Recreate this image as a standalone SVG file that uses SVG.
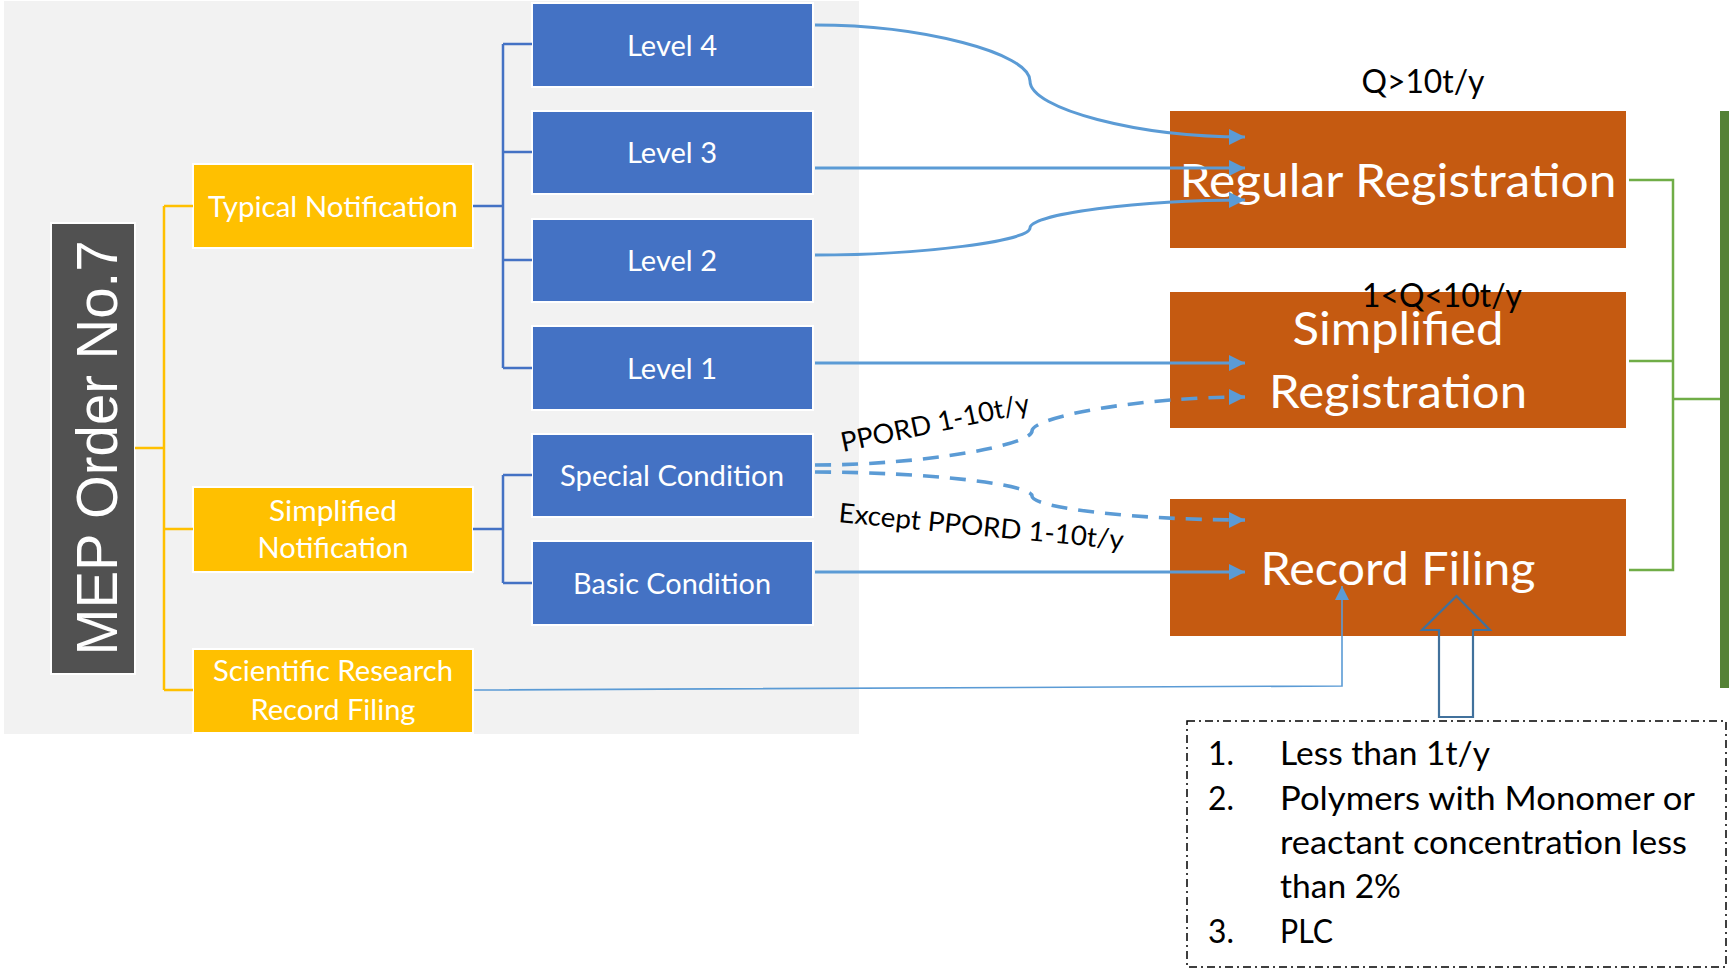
<svg xmlns="http://www.w3.org/2000/svg" width="1729" height="970" viewBox="0 0 1729 970">
<defs>
<style>
.t{font-family:Lato,"Open Sans","Liberation Sans",sans-serif;text-anchor:middle}
.w{fill:#fff}
.k{fill:#000}
.blue rect{fill:#4472C4;stroke:#fff;stroke-width:2}
.yel rect{fill:#FFC000;stroke:#fff;stroke-width:2}
.org rect{fill:#C55A11}
.bt{font-size:28px}
.ot{font-size:46px}
.lb{font-family:Lato,"Open Sans","Liberation Sans",sans-serif;fill:#000}
.c{fill:none;stroke:#5B9BD5;stroke-width:3}
.d{stroke-width:3.6;stroke-dasharray:16 11}
.yl{fill:none;stroke:#FFC000;stroke-width:2.5}
.bl{fill:none;stroke:#4472C4;stroke-width:2.5}
.gl{fill:none;stroke:#70AD47;stroke-width:2.5}
</style>
<marker id="ah" markerUnits="userSpaceOnUse" markerWidth="16" markerHeight="16" refX="16" refY="8" orient="auto">
<path d="M0,0 L16,8 L0,16 z" fill="#5B9BD5"/>
</marker>
<marker id="ahs" markerUnits="userSpaceOnUse" markerWidth="14" markerHeight="14" refX="14" refY="7" orient="auto">
<path d="M0,0 L14,7 L0,14 z" fill="#5B9BD5"/>
</marker>
</defs>
<rect x="0" y="0" width="1729" height="970" fill="#fff"/>
<rect id="panel" x="4" y="1" width="855" height="733" fill="#F2F2F2"/>

<g id="mep">
<rect x="51" y="223" width="84" height="451" fill="#515151" stroke="#fff" stroke-width="2"/>
<text transform="translate(117,448) rotate(-90)" text-anchor="middle" font-family="Liberation Sans, sans-serif" font-size="58" fill="#fff" textLength="415" lengthAdjust="spacingAndGlyphs">MEP Order No.7</text>
</g>

<g id="typical" class="yel"><rect x="193" y="164" width="280" height="84"/><text class="t w bt" x="333" y="217" textLength="250" lengthAdjust="spacingAndGlyphs">Typical Notification</text></g>
<g id="simplified-notification" class="yel"><rect x="193" y="487" width="280" height="85"/><text class="t w bt" x="333" y="521" textLength="128" lengthAdjust="spacingAndGlyphs">Simplified</text><text class="t w bt" x="333" y="558" textLength="151" lengthAdjust="spacingAndGlyphs">Notification</text></g>
<g id="scientific" class="yel"><rect x="193" y="649" width="280" height="84"/><text class="t w bt" x="333" y="681" textLength="240" lengthAdjust="spacingAndGlyphs">Scientific Research</text><text class="t w bt" x="333" y="720" textLength="165" lengthAdjust="spacingAndGlyphs">Record Filing</text></g>

<g id="level4" class="blue"><rect x="532" y="3" width="281" height="84"/><text class="t w bt" x="672" y="56" textLength="90" lengthAdjust="spacingAndGlyphs">Level 4</text></g>
<g id="level3" class="blue"><rect x="532" y="111" width="281" height="83"/><text class="t w bt" x="672" y="163" textLength="90" lengthAdjust="spacingAndGlyphs">Level 3</text></g>
<g id="level2" class="blue"><rect x="532" y="219" width="281" height="83"/><text class="t w bt" x="672" y="271" textLength="90" lengthAdjust="spacingAndGlyphs">Level 2</text></g>
<g id="level1" class="blue"><rect x="532" y="326" width="281" height="84"/><text class="t w bt" x="672" y="379" textLength="90" lengthAdjust="spacingAndGlyphs">Level 1</text></g>
<g id="special" class="blue"><rect x="532" y="434" width="281" height="83"/><text class="t w bt" x="672" y="486" textLength="224" lengthAdjust="spacingAndGlyphs">Special Condition</text></g>
<g id="basic" class="blue"><rect x="532" y="541" width="281" height="84"/><text class="t w bt" x="672" y="594" textLength="198" lengthAdjust="spacingAndGlyphs">Basic Condition</text></g>

<g id="regular" class="org"><rect x="1170" y="111" width="456" height="137"/><text class="t w ot" x="1398" y="197" textLength="437" lengthAdjust="spacingAndGlyphs">Regular Registration</text></g>
<g id="simplified-registration" class="org"><rect x="1170" y="292" width="456" height="136"/><text class="t w ot" x="1398" y="345" textLength="211" lengthAdjust="spacingAndGlyphs">Simplified</text><text class="t w ot" x="1398" y="408" textLength="258" lengthAdjust="spacingAndGlyphs">Registration</text></g>
<g id="record" class="org"><rect x="1170" y="499" width="456" height="137"/><text class="t w ot" x="1398" y="585" textLength="275" lengthAdjust="spacingAndGlyphs">Record Filing</text></g>

<g id="scope-bar"><rect x="1720" y="111" width="12" height="577" fill="#548235"/></g>

<g id="connectors">
<path class="yl" d="M135,448 H164 M164,206 V690 M164,206 H193 M164,529 H193 M164,690 H193"/>
<path class="bl" d="M473,206 H503 M503,44 V368 M503,44 H532 M503,152 H532 M503,260 H532 M503,368 H532"/>
<path class="bl" d="M473,529 H503 M503,475 V583 M503,475 H532 M503,583 H532"/>
<path class="c" marker-end="url(#ah)" d="M815,25 C922,25 1030,53 1030,81 C1030,109 1138,137 1245,137"/>
<path class="c" marker-end="url(#ah)" d="M815,168 H1245"/>
<path class="c" marker-end="url(#ah)" d="M815,255 C922,255 1030,241 1030,228 C1030,214 1138,200 1245,200"/>
<path class="c" marker-end="url(#ah)" d="M815,363 H1245"/>
<path class="c d" marker-end="url(#ah)" d="M815,465 C924,465 1032,445 1032,431 C1032,417 1138,397 1245,397"/>
<path class="c d" marker-end="url(#ah)" d="M815,472 C924,472 1032,484 1032,496 C1032,508 1138,520 1245,520"/>
<path class="c" marker-end="url(#ah)" d="M815,572 H1245"/>
<path fill="none" stroke="#5B9BD5" stroke-width="1.6" marker-end="url(#ahs)" d="M474,690 L1342,686 L1342,586"/>
<path class="gl" d="M1629,180 H1673 V570 H1629 M1629,361 H1673 M1673,399 H1720"/>
<polygon id="block-arrow" points="1439,717 1473,717 1473,630 1490,630 1456.5,596 1422,630 1439,630" fill="none" stroke="#41719C" stroke-width="2.2"/>
</g>

<g id="labels">
<text class="lb" x="1423" y="93" text-anchor="middle" font-size="32" textLength="123" lengthAdjust="spacingAndGlyphs">Q&gt;10t/y</text>
<text class="lb" x="1442" y="307" text-anchor="middle" font-size="32" textLength="160" lengthAdjust="spacingAndGlyphs">1&lt;Q&lt;10t/y</text>
<text class="lb" transform="translate(843,452) rotate(-12)" font-size="27" textLength="192" lengthAdjust="spacingAndGlyphs">PPORD 1-10t/y</text>
<text class="lb" transform="translate(838,522) rotate(5.5)" font-size="27" textLength="286" lengthAdjust="spacingAndGlyphs">Except PPORD 1-10t/y</text>
</g>

<g id="exemptions">
<rect x="1187" y="721" width="539" height="246" fill="none" stroke="#000" stroke-width="1.5" stroke-dasharray="8 4 2 4"/>
<g class="lb" font-size="32">
<text x="1208" y="765" textLength="26" lengthAdjust="spacingAndGlyphs">1.</text>
<text x="1280" y="765" textLength="210" lengthAdjust="spacingAndGlyphs">Less than 1t/y</text>
<text x="1208" y="810" textLength="26" lengthAdjust="spacingAndGlyphs">2.</text>
<text x="1280" y="810" textLength="415" lengthAdjust="spacingAndGlyphs">Polymers with Monomer or</text>
<text x="1280" y="854" textLength="407" lengthAdjust="spacingAndGlyphs">reactant concentration less</text>
<text x="1280" y="898" textLength="121" lengthAdjust="spacingAndGlyphs">than 2%</text>
<text x="1208" y="943" textLength="26" lengthAdjust="spacingAndGlyphs">3.</text>
<text x="1280" y="943" textLength="53" lengthAdjust="spacingAndGlyphs">PLC</text>
</g>
</g>
</svg>
